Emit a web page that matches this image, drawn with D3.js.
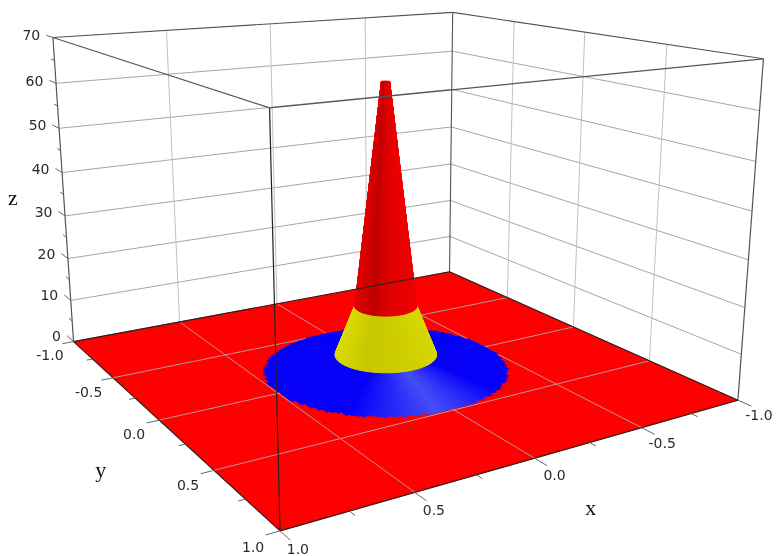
<!DOCTYPE html>
<title>Cone surface plot</title>
<meta charset="utf-8">
<style>
  html, body { margin: 0; padding: 0; background: #fff; }
  svg { display: block; filter: blur(0.45px); }
  .tick-label { font-family: "DejaVu Sans", sans-serif; font-size: 14px; fill: #2a2a2a; text-anchor: middle; }
  .axis-title { font-family: "Liberation Serif", serif; font-size: 22px; fill: #111; text-anchor: middle; }
</style>
<body>
<script src="https://d3js.org/d3.v7.min.js"></script>
<script>
  // axis ticks
  var xyTicks = [-1, -0.5, 0, 0.5, 1];
  var xyMinor = [-0.75, -0.25, 0.25, 0.75];
  var xyLabels = ["-1.0", "-0.5", "0.0", "0.5", "1.0"];
  var zTicks = [0, 10, 20, 30, 40, 50, 60, 70];
  var zMinor = [5, 15, 25, 35, 45, 55, 65];
  var zLabels = ["0", "10", "20", "30", "40", "50", "60", "70"];

  // surface profile: radius -> height
  var profileRadius = [0.016, 0.127, 0.21, 0.5];
  var profileHeight = [63, 14.5, 3.5, 0.2];

  // shading across the cone, -1 left silhouette, 1 right silhouette
  var shadeStops = [-1, -0.4, 0.15, 1];
  var redShades = ["#e40000", "#c00000", "#e00000", "#ee0000"];
  var yellowShades = ["#dcdc00", "#c8c800", "#cccc00", "#d8d800"];

  // screen position of the box corners, order x, y, z in 0..1 box coordinates
  var boxCorners = [
    [1, 0, 0, 74, 342], [1, 1, 0, 279.3, 530.7], [0, 1, 0, 738.3, 400], [0, 0, 0, 449.3, 271.7],
    [1, 0, 1, 52.7, 37.3], [1, 1, 1, 270, 107.7], [0, 1, 1, 763.3, 59.3], [0, 0, 1, 452.7, 12.3]
  ];

  var width = 776, height = 556;

  var x = d3.scaleLinear().domain([-1, 1]).range([0, 1]);
  var y = d3.scaleLinear().domain([-1, 1]).range([0, 1]);
  var z = d3.scaleLinear().domain([0, 70]).range([0, 1]);
  var surface = d3.scaleLinear().domain(profileRadius).range(profileHeight).clamp(true);
  var redShade = d3.scaleLinear().domain(shadeStops).range(redShades);
  var yellowShade = d3.scaleLinear().domain(shadeStops).range(yellowShades);
  var blueShade = d3.scaleLinear().domain([0, 38]).range(["#4050ff", "#0000ff"]).clamp(true);

  // least squares camera matrix from the corners
  function fitCamera(corners) {
    var n = 11, ata = [], atb = [];
    for (var i = 0; i < n; i++) { ata.push(new Array(n).fill(0)); atb.push(0); }
    function addRow(row, b) {
      for (var i = 0; i < n; i++) {
        atb[i] += row[i] * b;
        for (var j = 0; j < n; j++) ata[i][j] += row[i] * row[j];
      }
    }
    corners.forEach(function(c) {
      addRow([c[0], c[1], c[2], 1, 0, 0, 0, 0, -c[3] * c[0], -c[3] * c[1], -c[3] * c[2]], c[3]);
      addRow([0, 0, 0, 0, c[0], c[1], c[2], 1, -c[4] * c[0], -c[4] * c[1], -c[4] * c[2]], c[4]);
    });
    for (var k = 0; k < n; k++) {
      var piv = k;
      for (var r = k + 1; r < n; r++) if (Math.abs(ata[r][k]) > Math.abs(ata[piv][k])) piv = r;
      var t = ata[k]; ata[k] = ata[piv]; ata[piv] = t;
      t = atb[k]; atb[k] = atb[piv]; atb[piv] = t;
      for (r = k + 1; r < n; r++) {
        var f = ata[r][k] / ata[k][k];
        for (var c = k; c < n; c++) ata[r][c] -= f * ata[k][c];
        atb[r] -= f * atb[k];
      }
    }
    var m = new Array(n).fill(0);
    for (k = n - 1; k >= 0; k--) {
      var s = atb[k];
      for (c = k + 1; c < n; c++) s -= ata[k][c] * m[c];
      m[k] = s / ata[k][k];
    }
    return m;
  }
  var cam = fitCamera(boxCorners);

  function project(px, py, pz) {
    var a = x(px), b = y(py), c = z(pz);
    var w = cam[8] * a + cam[9] * b + cam[10] * c + 1;
    return [(cam[0] * a + cam[1] * b + cam[2] * c + cam[3]) / w,
            (cam[4] * a + cam[5] * b + cam[6] * c + cam[7]) / w];
  }

  var svg = d3.select("body").append("svg")
      .attr("width", width)
      .attr("height", height);

  var line = d3.line();

  function seg(a, b, color, w) {
    svg.append("path")
        .attr("d", line([a, b]))
        .attr("fill", "none")
        .attr("stroke", color)
        .attr("stroke-width", w);
  }
  function poly(pts, color, w) {
    svg.append("path")
        .attr("d", line(pts) + "Z")
        .attr("fill", color)
        .attr("stroke", color)
        .attr("stroke-width", w || 0.6);
  }

  var gridH = "#a6a6a6", gridV = "#c0c0c0", floorGrid = "#b89a9a";
  var edgeColor = "#555", tickColor = "#666";

  // back walls
  zTicks.slice(1, -1).forEach(function(t) {
    seg(project(1, -1, t), project(-1, -1, t), gridH, 1);
    seg(project(-1, -1, t), project(-1, 1, t), gridH, 1);
  });
  xyTicks.slice(1, -1).forEach(function(t) {
    seg(project(t, -1, 0), project(t, -1, 70), gridV, 1);
    seg(project(-1, t, 0), project(-1, t, 70), gridV, 1);
  });
  seg(project(-1, -1, 0), project(-1, -1, 70), edgeColor, 1.1);
  seg(project(1, -1, 70), project(-1, -1, 70), edgeColor, 1.1);
  seg(project(-1, -1, 70), project(-1, 1, 70), edgeColor, 1.1);

  // floor
  poly([project(1, -1, 0), project(1, 1, 0), project(-1, 1, 0), project(-1, -1, 0)], "#ff0000");
  xyTicks.slice(1, -1).forEach(function(t) {
    seg(project(t, -1, 0), project(t, 1, 0), floorGrid, 1);
    seg(project(-1, t, 0), project(1, t, 0), floorGrid, 1);
  });

  // blue disc, drawn as mesh cells so the rim stays stepped
  var cell = 0.016;
  var centre = project(0, 0, 0);
  d3.range(-33, 33).forEach(function(i) {
    d3.range(-33, 33).forEach(function(j) {
      var cx = (i + 0.5) * cell, cy = (j + 0.5) * cell;
      var r = Math.hypot(cx, cy);
      if (r > profileRadius[3] || r < 0.18) return;
      var corners = [[i, j], [i + 1, j], [i + 1, j + 1], [i, j + 1]].map(function(c) {
        var a = c[0] * cell, b = c[1] * cell;
        return project(a, b, surface(Math.hypot(a, b)));
      });
      var p = project(cx, cy, 0);
      var ang = Math.atan2((p[1] - centre[1]) / 0.35, p[0] - centre[0]) * 180 / Math.PI;
      poly(corners, blueShade(Math.abs(ang - 68)));
    });
  });

  // cone, back facets first
  var view = [0.6 / 1.166, 1 / 1.166], side = [-1 / 1.166, 0.6 / 1.166];
  var step = 3;
  var facets = d3.range(0, 360, step).map(function(deg) {
    var mid = (deg + step / 2) * Math.PI / 180;
    return {
      deg: deg,
      depth: Math.cos(mid) * view[0] + Math.sin(mid) * view[1],
      u: Math.cos(mid) * side[0] + Math.sin(mid) * side[1]
    };
  }).sort(function(a, b) { return a.depth - b.depth; });

  function ring(r, h, deg) {
    var t = deg * Math.PI / 180;
    return project(r * Math.cos(t), r * Math.sin(t), h);
  }
  function band(k, shade) {
    facets.forEach(function(f) {
      poly([ring(profileRadius[k], profileHeight[k], f.deg),
            ring(profileRadius[k], profileHeight[k], f.deg + step),
            ring(profileRadius[k + 1], profileHeight[k + 1], f.deg + step),
            ring(profileRadius[k + 1], profileHeight[k + 1], f.deg)], shade(f.u), 1);
    });
  }
  band(1, yellowShade);
  band(0, redShade);

  // front box edges sit on top of the surface
  seg(project(1, -1, 0), project(1, -1, 70), edgeColor, 1.2);
  seg(project(1, 1, 0), project(1, 1, 70), "#222", 1.2);
  seg(project(-1, 1, 0), project(-1, 1, 70), edgeColor, 1.2);
  seg(project(1, -1, 70), project(1, 1, 70), edgeColor, 1.2);
  seg(project(1, 1, 70), project(-1, 1, 70), edgeColor, 1.2);
  seg(project(1, -1, 0), project(1, 1, 0), "#222", 1.1);
  seg(project(1, 1, 0), project(-1, 1, 0), "#222", 1.1);
  seg(project(1, -1, 0), project(-1, -1, 0), "#222", 1.1);
  seg(project(-1, -1, 0), project(-1, 1, 0), "#222", 1.1);

  // ticks
  zTicks.forEach(function(t) { seg(project(1, -1, t), project(1, -1.09, t), tickColor, 1); });
  zMinor.forEach(function(t) { seg(project(1, -1, t), project(1, -1.045, t), tickColor, 1); });
  xyTicks.forEach(function(t) {
    seg(project(1, t, 0), project(1.05, t, 0), tickColor, 1);
    seg(project(t, 1, 0), project(t, 1.07, 0), tickColor, 1);
  });
  xyMinor.forEach(function(t) {
    seg(project(1, t, 0), project(1.025, t, 0), tickColor, 1);
    seg(project(t, 1, 0), project(t, 1.035, 0), tickColor, 1);
  });

  // tick labels hang off the outer tick end
  function label(p, dx, dy, text, cls) {
    svg.append("text")
        .attr("class", cls)
        .attr("x", p[0] + dx)
        .attr("y", p[1] + dy)
        .attr("dy", "0.36em")
        .text(text);
  }
  zTicks.forEach(function(t, i) {
    var p = project(1, -1.09, t);
    svg.append("text")
        .attr("class", "tick-label")
        .style("text-anchor", "end")
        .attr("x", p[0] - 6)
        .attr("y", p[1])
        .attr("dy", "0.36em")
        .text(zLabels[i]);
  });
  xyTicks.forEach(function(t, i) {
    label(project(1.05, t, 0), -12.5, 11.5, xyLabels[i], "tick-label");
    label(project(t, 1.07, 0), 7.5, 9, xyLabels[i], "tick-label");
  });

  label([590.7, 507], 0, 0, "x", "axis-title");
  label([100.7, 469], 0, 0, "y", "axis-title");
  label([13, 197], 0, 0, "z", "axis-title");
</script>
</body>
